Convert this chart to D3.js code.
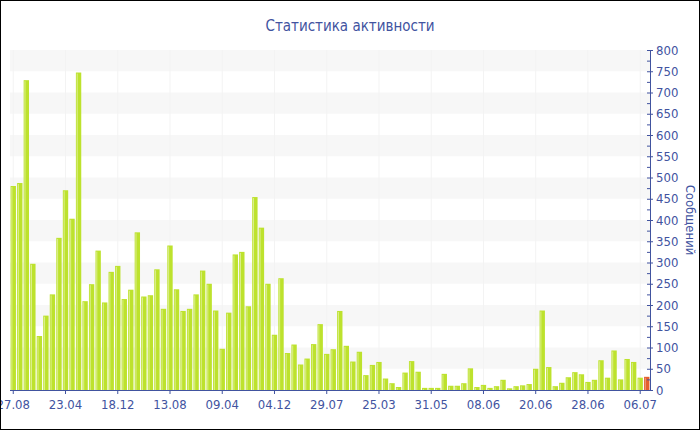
<!DOCTYPE html>
<html><head><meta charset="utf-8">
<script src="https://cdn.jsdelivr.net/npm/d3@7"></script>
<style>
html,body{margin:0;padding:0;background:#fff;}
svg{display:block;}
</style></head>
<body>
<script>
const title = "Статистика активности";
const yTitle = "Сообщений";
const values = [480,487,729,297,127,175,225,358,470,403,747,209,249,328,206,278,292,214,236,371,220,223,284,191,340,237,186,191,225,281,250,187,97,182,319,325,197,454,382,250,130,263,87,107,60,74,108,155,85,96,186,104,67,90,35,59,66,27,16,7,41,68,43,5,5,5,38,10,10,16,51,7,12,5,9,24,4,9,11,14,50,187,54,9,17,30,42,37,19,24,70,29,93,25,73,66,29,31];
const tickLabels = ["27.08","23.04","18.12","13.08","09.04","04.12","29.07","25.03","31.05","08.06","20.06","28.06","06.07"];
const tickEvery = 8;
const yTicks = d3.range(0, 801, 50);
const categories = values.map((v,i)=>i);

const W=700,H=430;
const m={left:10,right:50,top:50,bottom:40};
const svg=d3.select("body").append("svg").attr("width",W).attr("height",H);
svg.append("rect").attr("x",0.5).attr("y",0.5).attr("width",W-1).attr("height",H-1).attr("fill","#fff").attr("stroke","#000");
const clip = svg.append("defs").append("clipPath").attr("id","c").append("rect").attr("x",1).attr("y",1).attr("width",W-2).attr("height",H-2);
const g=svg.append("g").attr("clip-path","url(#c)");

const x=d3.scaleBand().domain(categories).range([m.left,W-m.right]).paddingInner(0.18).paddingOuter(0.09);
const y=d3.scaleLinear().domain([0,800]).range([H-m.bottom,m.top]);
const blue="#41539f";
const font="'DejaVu Sans Condensed','DejaVu Sans',sans-serif";

// bands
for(let v=750; v>0; v-=100){
  g.append("rect").attr("x",m.left).attr("width",W-m.right-m.left)
   .attr("y",y(v+50)).attr("height",y(v)-y(v+50)).attr("fill","#f7f7f7");
}
// faint vertical grid
categories.filter(i=>i%tickEvery===0).forEach(i=>{
  g.append("line").attr("x1",x(i)+x.bandwidth()/2).attr("x2",x(i)+x.bandwidth()/2)
   .attr("y1",m.top).attr("y2",H-m.bottom).attr("stroke","#f3f3f3").attr("stroke-width",1);
});

// bars
const bars=g.append("g");
values.forEach((v,i)=>{
  const last = i===values.length-1;
  bars.append("rect").attr("x",x(i)).attr("width",x.bandwidth())
    .attr("y",y(v)).attr("height",y(0)-y(v)).attr("fill", last?"#e4602e":"#bde22d");
  bars.append("rect").attr("x",x(i)+0.8).attr("width",1)
    .attr("y",y(v)+1).attr("height",Math.max(0,y(0)-y(v)-1)).attr("fill", last?"#ee9b7b":"#dbef8c");
});

// x axis
const xa=g.append("g").attr("transform",`translate(0,${H-m.bottom})`)
  .call(d3.axisBottom(x).tickValues(categories.filter(i=>i%tickEvery===0))
    .tickFormat(i=>tickLabels[i/tickEvery]).tickSize(4).tickSizeOuter(0));
xa.select(".domain").attr("stroke",blue).attr("d",`M${m.left},0.5H${W-m.right}`);
xa.selectAll(".tick line").attr("stroke",blue);
xa.selectAll("text").attr("fill",blue).attr("font-family",font).attr("font-size",13).attr("dy","0.9em");

// y axis right
const ya=g.append("g").attr("transform",`translate(${W-m.right},0)`)
  .call(d3.axisRight(y).tickValues(yTicks).tickSize(3).tickSizeOuter(0).tickPadding(3));
ya.select(".domain").attr("stroke",blue);
ya.selectAll(".tick line").attr("stroke",blue).attr("x1",-3);
ya.selectAll("text").attr("fill",blue).attr("font-family",font).attr("font-size",13);
// minor ticks
d3.range(25,800,50).forEach(v=>{
  ya.append("line").attr("x1",-3).attr("x2",0).attr("y1",y(v)+0.5).attr("y2",y(v)+0.5).attr("stroke",blue);
});

// titles
g.append("text").attr("x",W/2).attr("y",31).attr("text-anchor","middle")
  .attr("fill",blue).attr("font-family",font).attr("font-size",15).text(title);
g.append("text").attr("transform",`translate(686,${(m.top+H-m.bottom)/2}) rotate(90)`)
  .attr("text-anchor","middle").attr("fill",blue).attr("font-family",font).attr("font-size",13).text(yTitle);
</script>
</body></html>
